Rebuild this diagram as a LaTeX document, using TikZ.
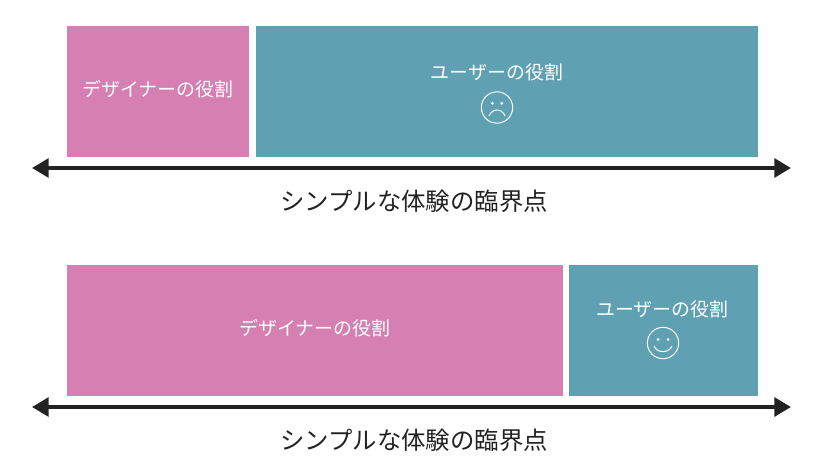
\documentclass[tikz,border=0pt]{standalone}
\usepackage{fontspec}
\setmainfont{Noto Sans CJK JP}
\usetikzlibrary{arrows.meta}
\definecolor{rolepink}{HTML}{D57FB3}
\definecolor{roleteal}{HTML}{5FA1B3}
\definecolor{axisdark}{HTML}{222222}
\tikzset{
designer/.style=
    {fill=rolepink,
    rectangle,
    inner sep=0pt,
    minimum height=98.25pt
    },
user/.style=
    {designer,
    fill=roleteal
    },
rolelabel/.style=
    {text=white,
    inner sep=0pt,
    font=\fontsize{14.2}{16}\selectfont
    },
axislabel/.style=
    {text=axisdark,
    inner sep=0pt,
    font=\fontsize{18.3}{20}\selectfont
    },
axis/.style=
    {draw=axisdark,
    line width=3pt,
    {Triangle[length=12.5pt,width=14pt]}-{Triangle[length=12.5pt,width=14pt]}
    },
face/.style=
    {draw=white,
    circle,
    line width=0.75pt,
    inner sep=0pt,
    minimum size=23.5pt
    }}

\begin{document}
\begin{tikzpicture}[x=0.75pt,y=-0.75pt]
\useasboundingbox (0,0) rectangle (830,472);

% upper bar
\node[designer,minimum width=136.5pt] (designerA) at (158,91.5) {};
\node[rolelabel] (designerlabelA) at (158,89) {デザイナーの役割};
\node[user,minimum width=376.5pt] (userA) at (507,91.5) {};
\node[rolelabel] (userlabelA) at (497,72) {ユーザーの役割};
\node[face] (faceA) at (497,107.5) {};
\fill[white] (492.3,103.3) circle (1.5);
\fill[white] (501.7,103.3) circle (1.5);
\draw[white,line width=0.75pt] (489,116) .. controls (492,108) and (502,108) .. (505,116);
\coordinate (leftA) at (32,168);
\coordinate (rightA) at (791,168);
\draw[axis] (leftA) -- (rightA);
\node[axislabel] (labelA) at (414,201) {シンプルな体験の臨界点};

% lower bar
\node[designer,minimum width=372pt] (designerB) at (315,330.5) {};
\node[rolelabel] (designerlabelB) at (315,328) {デザイナーの役割};
\node[user,minimum width=141.75pt] (userB) at (663.5,330.5) {};
\node[rolelabel] (userlabelB) at (662.5,309) {ユーザーの役割};
\node[face] (faceB) at (663,343) {};
\fill[white] (658,339.5) circle (1.5);
\fill[white] (668,339.5) circle (1.5);
\draw[white,line width=0.75pt] (654,346) .. controls (657,353.5) and (669,353.5) .. (672,346);
\coordinate (leftB) at (32,407);
\coordinate (rightB) at (791,407);
\draw[axis] (leftB) -- (rightB);
\node[axislabel] (labelB) at (414,440) {シンプルな体験の臨界点};
\end{tikzpicture}
\end{document}
